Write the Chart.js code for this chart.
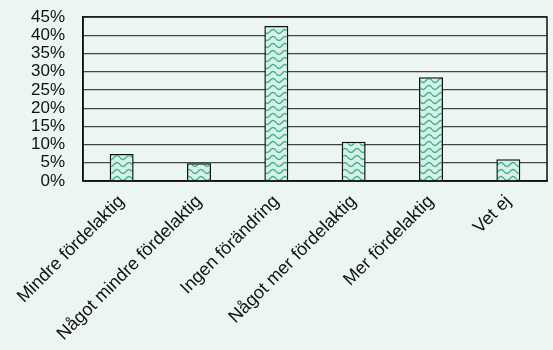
<!DOCTYPE html>
<html>
<head>
<meta charset="utf-8">
<script src="https://cdn.jsdelivr.net/npm/chart.js@4"></script>
<style>
  html, body { margin: 0; padding: 0; background: #ebf5f1; }
  #wrap { width: 553px; height: 350px; }
</style>
</head>
<body>
<div id="wrap"><canvas id="c" width="553" height="350"></canvas></div>
<script>
var categories = ['Mindre fördelaktig', 'Något mindre fördelaktig', 'Ingen förändring', 'Något mer fördelaktig', 'Mer fördelaktig', 'Vet ej']
var shares = [7.4, 4.9, 42.5, 10.8, 28.5, 6.0]
var yTicks = [0, 5, 10, 15, 20, 25, 30, 35, 40, 45]

Chart.defaults.font.family = "'Liberation Sans', Arial, sans-serif"
Chart.defaults.color = '#111'

// wavy hatch like the old office fill pattern
function wavePattern(){
  var p = document.createElement('canvas')
  p.width = 12; p.height = 7
  var g = p.getContext('2d')
  g.fillStyle = '#d8f0e7'
  g.fillRect(0, 0, 12, 7)
  g.strokeStyle = '#34b48f'
  g.lineWidth = 1.4
  g.beginPath()
  for (var x = 0; x <= 12; x += 0.5){
    var y = 3.5 + 2 * Math.sin(x / 12 * Math.PI * 2)
    if (x === 0) g.moveTo(x, y); else g.lineTo(x, y)
  }
  g.stroke()
  return g.createPattern(p, 'repeat')
}

var frame = {
  id: 'frame',
  afterDraw: function(chart){
    var a = chart.chartArea, ctx = chart.ctx
    ctx.save()
    ctx.strokeStyle = '#111'
    ctx.lineWidth = 1.5
    ctx.strokeRect(a.left, a.top, a.right - a.left, a.bottom - a.top)
    ctx.restore()
  }
}

var ctx = document.getElementById('c').getContext('2d')
new Chart(ctx, {
  type: 'bar',
  data: {
    labels: categories,
    datasets: [{
      data: shares,
      backgroundColor: wavePattern(),
      borderColor: '#111',
      borderWidth: 1.5,
      categoryPercentage: 1,
      barPercentage: 0.31
    }]
  },
  plugins: [frame],
  options: {
    responsive: false,
    animation: false,
    layout: { padding: { top: 17, right: 6, left: 0, bottom: 0 } },
    plugins: { legend: { display: false }, tooltip: { enabled: false } },
    scales: {
      x: {
        grid: { display: false },
        border: { color: '#111', width: 1.5 },
        ticks: {
          font: { size: 18 },
          minRotation: 45,
          maxRotation: 45,
          autoSkip: false,
          padding: 2
        },
        afterFit: function(s){
          s.height = 169
          s.paddingLeft = 0; s.paddingRight = 0
        }
      },
      y: {
        min: 0,
        max: 45,
        afterBuildTicks: function(s){ s.ticks = yTicks.map(function(v){ return { value: v } }) },
        grid: { color: '#444', lineWidth: 1.2, drawTicks: false },
        border: { color: '#111', width: 1.5 },
        ticks: {
          font: { size: 17 },
          autoSkip: false,
          padding: 18,
          callback: function(v){ return v + '%' }
        },
        afterFit: function(s){
          s.width = 83
          s.paddingTop = 0; s.paddingBottom = 0
        }
      }
    }
  }
})
</script>
</body>
</html>
